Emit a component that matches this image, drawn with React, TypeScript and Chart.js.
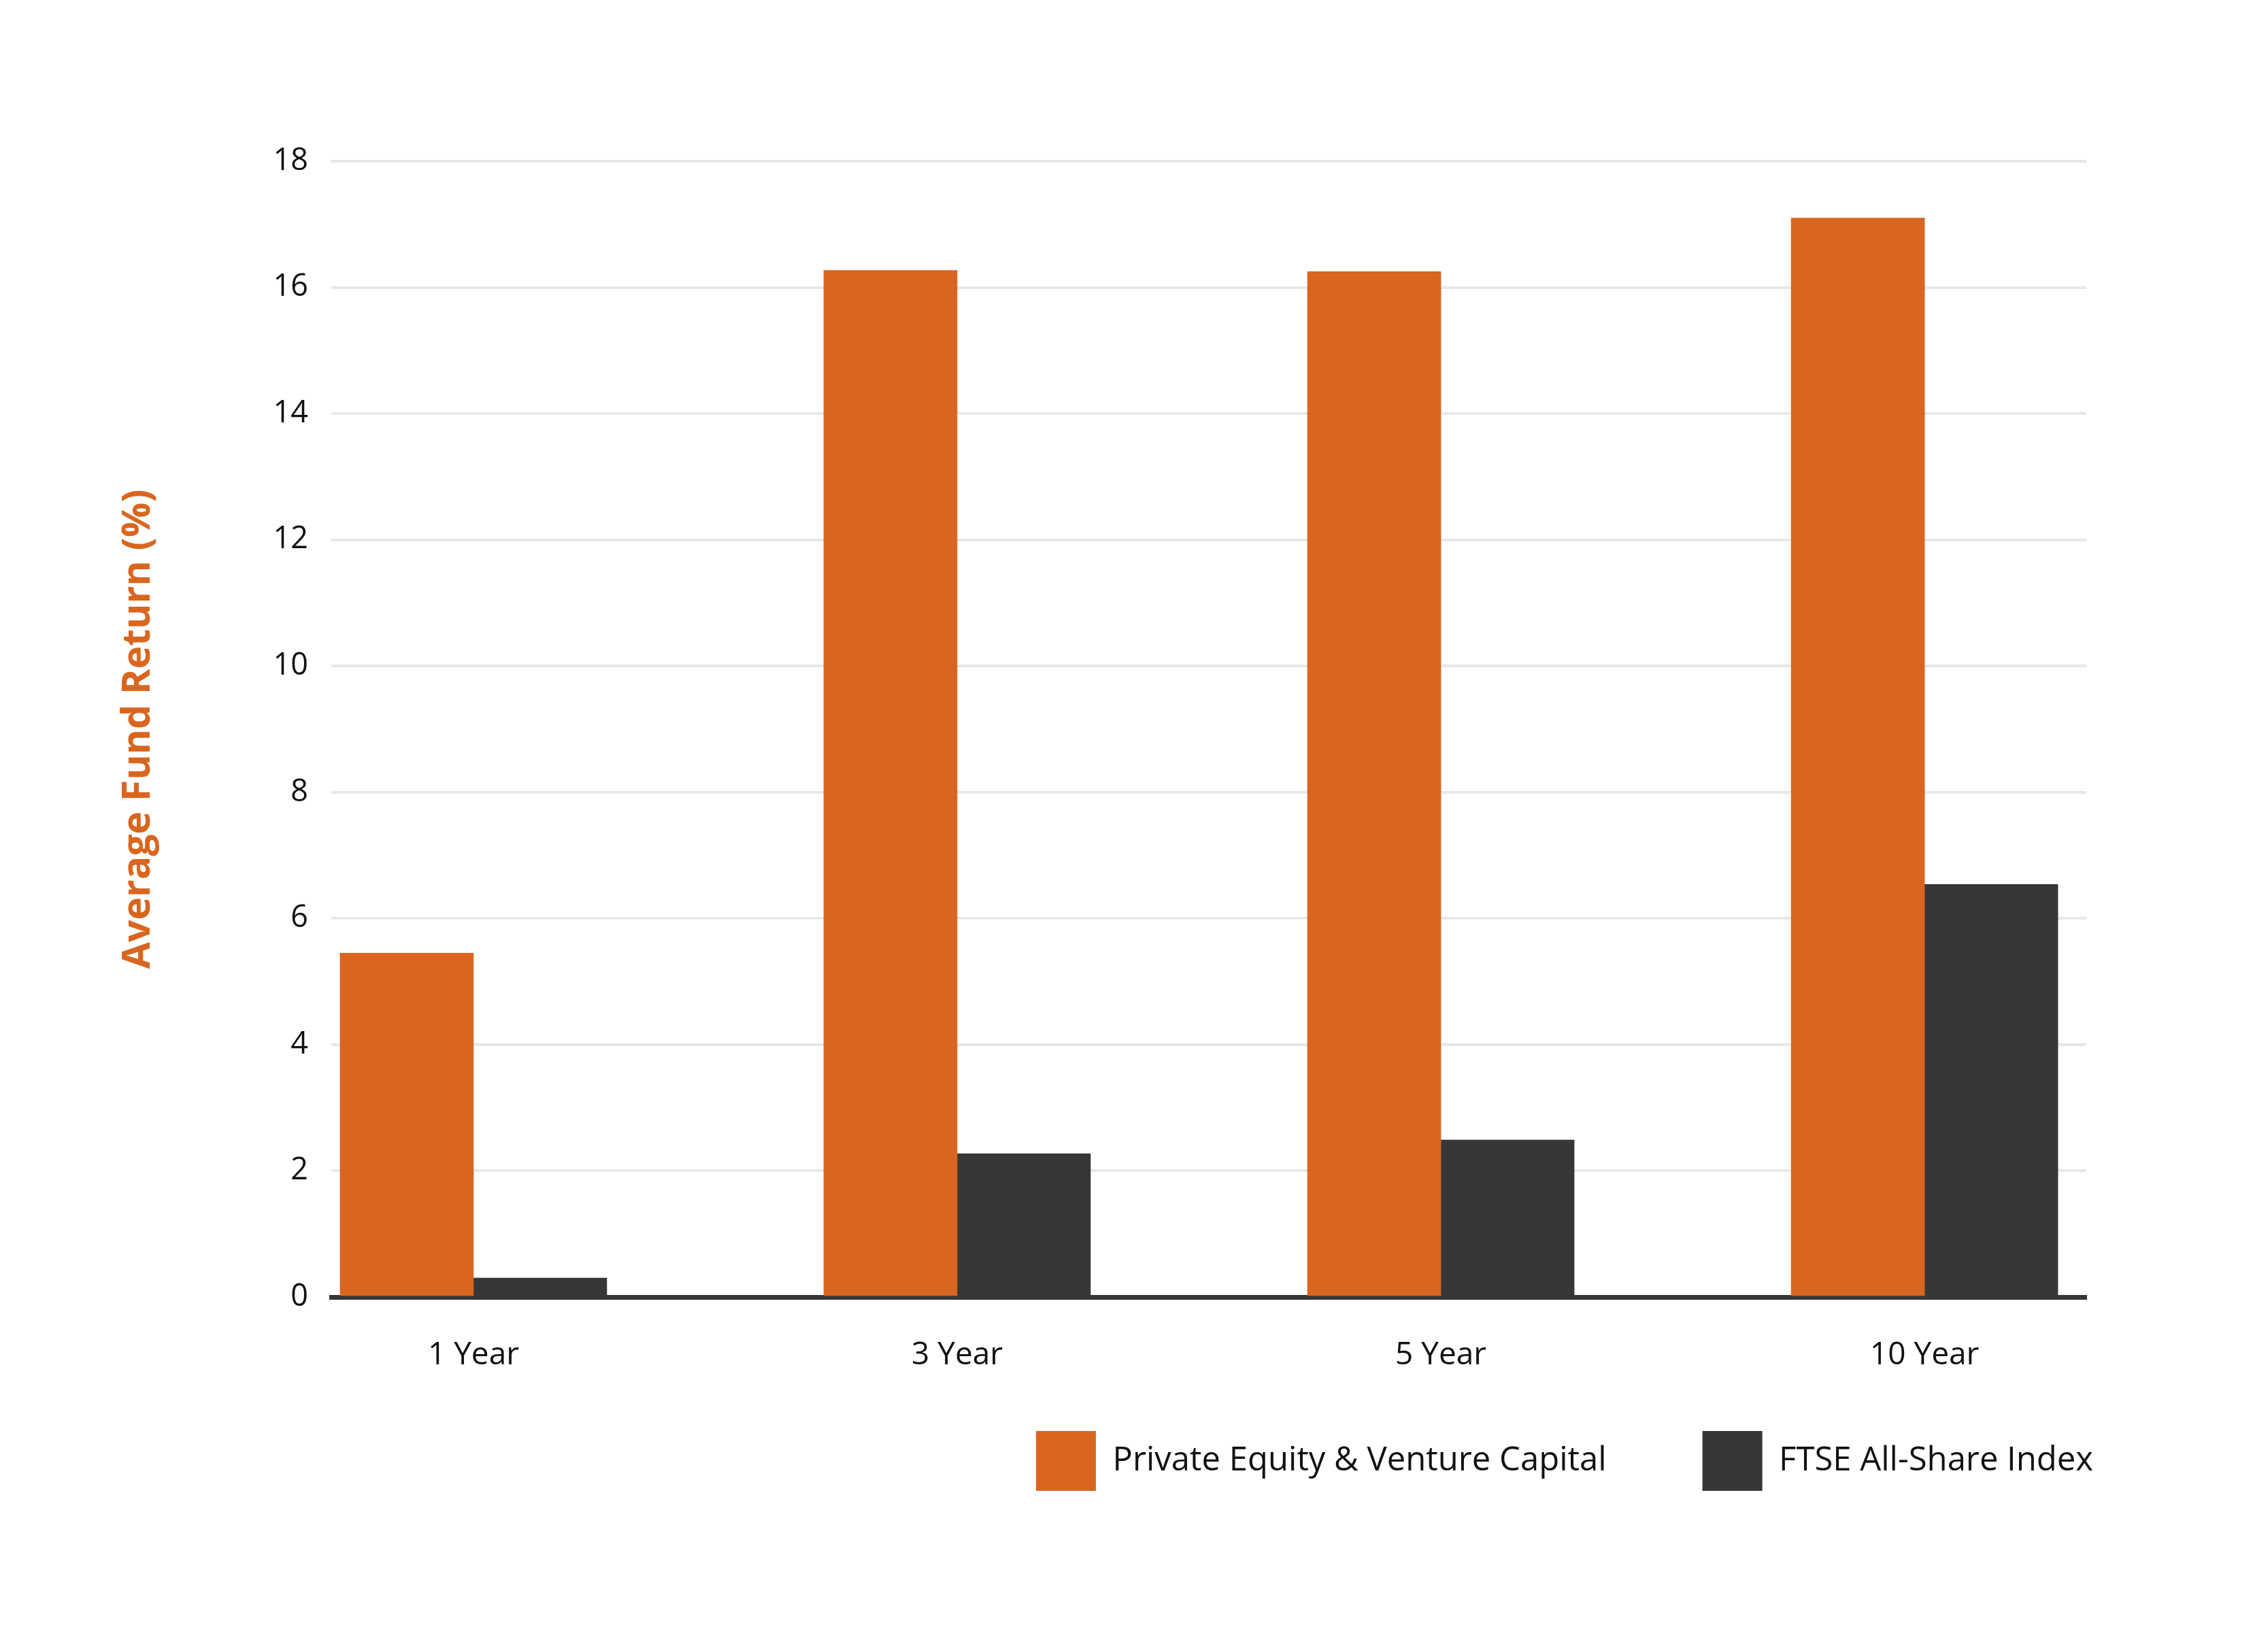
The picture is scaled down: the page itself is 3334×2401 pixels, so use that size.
import React, { useEffect, useRef } from 'react';
import { Chart, registerables } from 'chart.js';

Chart.register(...registerables);

const categories = ['1 Year', '3 Year', '5 Year', '10 Year'];
const privateEquity = [5.45, 16.27, 16.25, 17.1];
const ftseAllShare = [0.3, 2.27, 2.49, 6.54];
const seriesLabels = ['Private Equity & Venture Capital', 'FTSE All-Share Index'];
const yAxisTitle = 'Average Fund Return (%)';
const yMin = 0;
const yMax = 18;
const yStep = 2;

const ORANGE = '#D9661F';
const DARK = '#373737';
const TEXT = '#111111';
const FONT = 'Open Sans';

export default function App() {
  const ref = useRef<HTMLCanvasElement | null>(null);

  useEffect(() => {
    if (!ref.current) return;
    const chart = new Chart(ref.current, {
      type: 'bar',
      data: {
        datasets: [
          {
            label: seriesLabels[0],
            data: privateEquity.map((v, i) => ({ x: i, y: v })),
            backgroundColor: ORANGE,
            borderWidth: 0,
            barThickness: 196,
          },
          {
            label: seriesLabels[1],
            data: ftseAllShare.map((v, i) => ({ x: i, y: v })),
            backgroundColor: DARK,
            borderWidth: 0,
            barThickness: 196,
          },
        ],
      },
      options: {
        responsive: false,
        animation: false,
        devicePixelRatio: 1,
        layout: { padding: { left: 170, right: 116, top: 237, bottom: 199 } },
        plugins: {
          tooltip: { enabled: false },
          legend: {
            position: 'bottom',
            align: 'end',
            labels: {
              boxWidth: 88,
              boxHeight: 88,
              padding: 141,
              color: TEXT,
              font: { family: FONT, size: 49 },
            },
          },
        },
        scales: {
          x: {
            type: 'linear',
            offset: false,
            min: -0.2939,
            max: 3.3346,
            z: 1,
            grid: { display: false, offset: false },
            border: { display: true, color: DARK, width: 7 },
            afterBuildTicks: (scale: any) => {
              scale.ticks = categories.map((_, i) => ({ value: i }));
            },
            afterFit: (scale: any) => {
              scale.height = 56;
            },
            ticks: {
              autoSkip: false,
              maxRotation: 0,
              mirror: true,
              padding: -113,
              color: TEXT,
              font: { family: FONT, size: 46 },
              callback: (v: any) => categories[v as number] ?? '',
            },
          },
          y: {
            min: yMin,
            max: yMax,
            afterFit: (scale: any) => {
              scale.width = 317;
            },
            grid: { color: '#E8E8E8', lineWidth: 4, drawTicks: false },
            border: { display: false },
            ticks: {
              stepSize: yStep,
              padding: 34,
              color: TEXT,
              font: { family: FONT, size: 45 },
            },
            title: {
              display: true,
              text: yAxisTitle,
              color: ORANGE,
              padding: { top: 0, bottom: 0 },
              font: { family: FONT, size: 57, weight: 'bold' },
            },
          },
          spacer: {
            type: 'linear',
            position: 'right',
            display: true,
            grid: { display: false },
            border: { display: false },
            ticks: { display: false },
            afterFit: (scale: any) => {
              scale.width = 151;
            },
          },
        },
      },
    } as any);
    return () => chart.destroy();
  }, []);

  return (
    <canvas
      ref={ref}
      width={3334}
      height={2401}
      style={{ position: 'fixed', left: 0, top: 0, width: 3334, height: 2401, display: 'block' }}
    />
  );
}
